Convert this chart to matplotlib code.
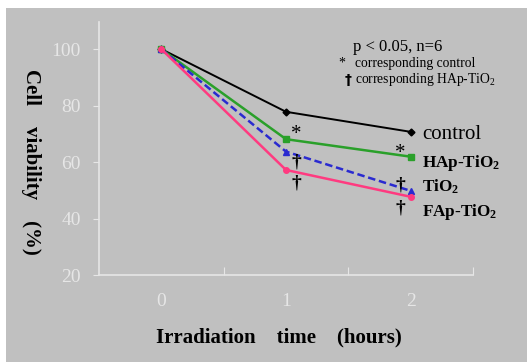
import matplotlib
matplotlib.use("Agg")
import matplotlib.pyplot as plt
from matplotlib.patches import Rectangle

plt.rcParams["font.family"] = ["Liberation Serif", "DejaVu Serif"]
plt.rcParams["mathtext.fontset"] = "custom"
plt.rcParams["mathtext.rm"] = "Liberation Serif"
plt.rcParams["mathtext.bf"] = "Liberation Serif:bold"

# data
hours = [0, 1, 2]
control = [100, 77.8, 70.7]
hap_tio2 = [100, 68.1, 61.9]
tio2 = [100, 63.7, 49.8]
fap_tio2 = [100, 57.2, 47.7]
yticks = [20, 40, 60, 80, 100]

# significance marks (symbol, x, y) and series labels (text, y)
marks = [("*", 1.08, 69.6), ("†", 1.08, 60.0), ("†", 1.08, 52.6),
         ("*", 1.92, 63.2), ("†", 1.92, 51.9), ("†", 1.92, 43.7)]
labels = [("control", 69.6, "normal", 15),
          (r"HAp-TiO$\mathbf{_2}$", 59.6, "bold", 12.3),
          (r"TiO$\mathbf{_2}$", 51.2, "bold", 12.3),
          (r"FAp-TiO$\mathbf{_2}$", 42.3, "bold", 12.3)]

bg = "#c0c0c0"
light = "#e6e6e6"

fig = plt.figure(figsize=(5.27, 3.62), dpi=100)
fig.patch.set_facecolor("white")
fig.patches.append(Rectangle((6 / 527, 0), 1, 1 - 8 / 362, transform=fig.transFigure,
                             facecolor=bg, edgecolor="none", zorder=-10))

ax = fig.add_axes([99 / 527, 87 / 362, 374 / 527, 253 / 362])
ax.set_facecolor("none")

ax.plot(hours, control, "-D", color="black", lw=1.4, ms=3.5)
ax.plot(hours, hap_tio2, "-s", color="#2aa02a", lw=1.8, ms=4)
ax.plot(hours, tio2, "--^", color="#2a2ad0", lw=1.8, ms=4.5, dashes=(3, 1.5))
ax.plot(hours, fap_tio2, "-o", color="#ff3a80", lw=1.8, ms=4)

for sym, x, y in marks:
    if sym == "*":
        ax.text(x, y, sym, ha="center", va="center", fontsize=15)
    else:
        ax.text(x, y, sym, ha="center", va="center", fontsize=14, fontweight="bold")

for txt, y, w, fs in labels:
    ax.text(2.09, y, txt, ha="left", va="center", fontweight=w, fontsize=fs)

ax.set_xlim(-0.5, 2.5)
ax.set_ylim(20, 109.6)

for s in ["top", "right"]:
    ax.spines[s].set_visible(False)
for s in ["left", "bottom"]:
    ax.spines[s].set_color(light)
    ax.spines[s].set_linewidth(1.2)

ax.set_yticks(yticks)
ax.set_yticklabels([str(v) for v in yticks])
ax.tick_params(axis="y", direction="out", length=4, color=light, labelcolor=light,
               labelsize=14, pad=9)

ax.set_xticks([0.5, 1.5, 2.5])
ax.set_xticklabels([])
ax.set_xticks(hours, minor=True)
ax.set_xticklabels([str(h) for h in hours], minor=True)
ax.tick_params(axis="x", which="major", direction="in", length=6, color=light)
ax.tick_params(axis="x", which="minor", length=0, labelcolor=light, labelsize=14, pad=13)

fig.text(279 / 527, 1 - 337 / 362, "Irradiation    time    (hours)", ha="center",
         va="center", fontsize=15, fontweight="bold")
fig.text(31 / 527, 1 - 162 / 362, "Cell    viability    (%)", ha="center", va="center",
         rotation=-90, fontsize=15, fontweight="bold")

fig.text(353 / 527, 1 - 47 / 362, "p < 0.05, n=6", ha="left", va="center", fontsize=12)
fig.text(338 / 527, 1 - 63 / 362, "*", ha="left", va="center", fontsize=10)
fig.text(355 / 527, 1 - 63 / 362, "corresponding control", ha="left", va="center",
         fontsize=9.8)
fig.text(345 / 527, 1 - 80 / 362, "†", ha="left", va="center", fontsize=10,
         family="DejaVu Sans", fontweight="bold")
fig.text(355 / 527, 1 - 80 / 362, r"corresponding HAp-TiO$_2$", ha="left",
         va="center", fontsize=9.8)

fig.savefig("out.png", dpi=100)
